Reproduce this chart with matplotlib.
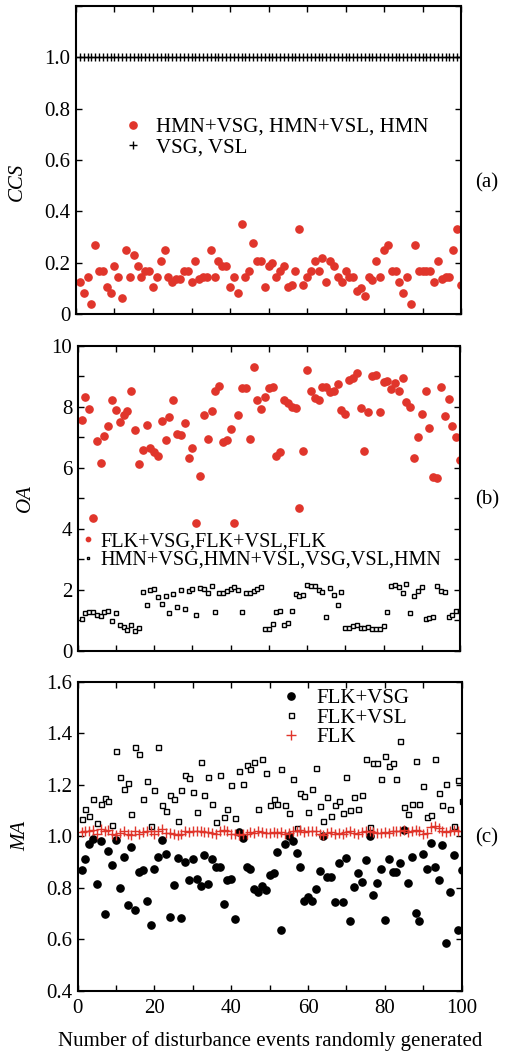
import matplotlib
matplotlib.use("Agg")
import matplotlib.pyplot as plt
import numpy as np
from matplotlib.ticker import MultipleLocator, FuncFormatter

plt.rcParams['font.family'] = ['Liberation Serif', 'DejaVu Serif']
plt.rcParams['mathtext.fontset'] = 'stix'

RED = '#e0352b'

events = list(range(1, 101))

# Panel (a): CCS
ccs_hmn = [0.123, 0.082, 0.144, 0.040, 0.268, 0.166, 0.166, 0.104, 0.082, 0.187,
           0.144, 0.061, 0.250, 0.144, 0.230, 0.187, 0.144, 0.166, 0.166, 0.104,
           0.144, 0.208, 0.250, 0.144, 0.123, 0.136, 0.136, 0.166, 0.166, 0.123,
           0.208, 0.136, 0.144, 0.144, 0.250, 0.144, 0.208, 0.187, 0.187, 0.104,
           0.144, 0.082, 0.351, 0.144, 0.166, 0.278, 0.208, 0.208, 0.104, 0.187,
           0.198, 0.144, 0.166, 0.187, 0.104, 0.112, 0.166, 0.331, 0.112, 0.144,
           0.166, 0.208, 0.166, 0.218, 0.123, 0.208, 0.187, 0.144, 0.123, 0.166,
           0.144, 0.144, 0.091, 0.101, 0.071, 0.144, 0.134, 0.208, 0.144, 0.250,
           0.268, 0.166, 0.166, 0.123, 0.082, 0.144, 0.040, 0.268, 0.166, 0.166,
           0.166, 0.166, 0.123, 0.208, 0.136, 0.144, 0.144, 0.250, 0.331, 0.112]
ccs_vsg = [1.0] * 100

# Panel (b): OA
oa_flk = [7.57, 8.31, 7.93, 4.35, 6.88, 6.15, 7.04, 7.37, 8.22, 7.89,
          7.49, 7.73, 7.86, 8.52, 7.23, 6.14, 6.60, 7.39, 6.64, 6.53,
          6.40, 7.54, 6.92, 7.65, 8.22, 7.11, 7.07, 7.46, 6.33, 6.64,
          4.18, 5.73, 7.72, 6.93, 7.85, 8.52, 8.69, 6.84, 6.92, 7.28,
          4.20, 7.73, 8.60, 8.62, 6.93, 9.31, 8.22, 7.94, 8.31, 8.60,
          8.66, 6.40, 6.52, 8.22, 8.11, 7.98, 7.96, 4.69, 6.56, 9.22,
          8.52, 8.28, 8.22, 8.66, 8.66, 8.49, 8.53, 8.76, 7.90, 7.75,
          8.89, 8.95, 9.09, 7.97, 6.55, 7.84, 9.00, 9.04, 7.82, 8.81,
          8.86, 8.57, 8.78, 8.53, 8.93, 8.17, 7.99, 6.31, 7.00, 7.75,
          8.52, 7.31, 5.71, 5.66, 8.64, 7.70, 8.26, 7.37, 7.02, 6.26]
oa_hmn = [1.06, 1.23, 1.29, 1.29, 1.17, 1.15, 1.27, 1.32, 0.99, 1.26,
          0.85, 0.80, 0.69, 0.85, 0.67, 0.76, 1.93, 1.50, 2.00, 2.03,
          1.76, 1.53, 1.81, 1.23, 1.86, 1.43, 1.99, 1.39, 1.97, 2.04,
          1.17, 2.06, 2.03, 1.90, 2.14, 1.27, 1.89, 1.89, 1.98, 2.03,
          2.09, 2.00, 1.27, 1.89, 1.89, 1.98, 2.02, 2.09, 0.71, 0.71,
          0.87, 1.27, 1.32, 0.86, 0.91, 1.32, 1.86, 1.81, 1.82, 2.17,
          2.13, 2.13, 1.99, 1.94, 1.12, 2.07, 1.82, 1.50, 1.94, 0.76,
          0.76, 0.82, 0.85, 0.74, 0.74, 0.80, 0.72, 0.72, 0.71, 0.82,
          1.27, 2.14, 2.16, 2.11, 1.89, 2.18, 1.23, 1.80, 1.97, 2.11,
          1.04, 1.08, 1.11, 2.12, 1.98, 1.93, 1.12, 1.17, 1.32, 1.32]

# Panel (c): MA
ma_vsg = [0.869, 0.911, 0.969, 0.990, 0.816, 0.981, 0.700, 0.943, 0.890, 0.985,
          0.798, 0.919, 0.732, 0.960, 0.713, 0.860, 0.868, 0.750, 0.655, 0.875,
          0.921, 0.985, 0.931, 0.686, 0.812, 0.915, 0.683, 0.900, 0.829, 0.911,
          0.836, 0.806, 0.929, 0.816, 0.911, 0.882, 0.882, 0.739, 0.829, 0.833,
          0.681, 1.018, 0.995, 0.882, 0.873, 0.794, 0.783, 0.806, 0.792, 0.851,
          0.856, 0.938, 0.638, 0.970, 1.001, 0.983, 0.935, 0.880, 0.750, 0.763,
          0.750, 0.797, 0.867, 1.001, 0.844, 0.844, 0.745, 0.898, 0.745, 0.915,
          0.673, 0.802, 0.856, 0.823, 0.908, 1.001, 0.771, 0.818, 0.873, 0.677,
          0.911, 0.863, 0.863, 0.898, 1.025, 0.818, 0.919, 0.704, 0.673, 0.931,
          0.873, 0.974, 0.882, 0.829, 0.968, 0.585, 0.785, 0.926, 0.638, 0.869]
ma_vsl = [1.066, 1.107, 1.080, 1.146, 1.052, 1.125, 1.147, 1.136, 1.044, 1.332,
          1.229, 1.185, 1.206, 1.087, 1.347, 1.318, 1.144, 1.216, 1.039, 1.178,
          1.347, 1.122, 1.098, 1.162, 1.144, 1.058, 1.178, 1.238, 1.225, 1.172,
          1.094, 1.287, 1.160, 1.231, 1.125, 1.054, 1.238, 1.075, 1.105, 1.199,
          1.070, 1.252, 1.202, 1.277, 1.263, 1.289, 1.107, 1.301, 1.247, 1.122,
          1.144, 1.125, 1.263, 1.122, 1.089, 1.221, 1.031, 1.168, 1.156, 1.093,
          1.185, 1.265, 1.118, 1.058, 1.152, 1.080, 1.123, 1.136, 1.089, 1.231,
          1.101, 1.152, 1.107, 1.160, 1.300, 1.038, 1.283, 1.283, 1.224, 1.310,
          1.273, 1.283, 1.224, 1.370, 1.115, 1.087, 1.127, 1.294, 1.127, 1.195,
          1.074, 1.083, 1.300, 1.168, 1.122, 1.203, 1.105, 1.041, 1.220, 1.136]
ma_flk = [1.016, 1.022, 1.019, 1.025, 1.010, 1.027, 1.019, 1.025, 1.010, 1.005,
          1.013, 1.022, 1.010, 1.005, 1.019, 1.010, 1.016, 1.022, 1.022, 1.010,
          1.019, 1.027, 1.013, 1.013, 1.010, 1.005, 1.010, 1.019, 1.016, 1.022,
          1.019, 1.019, 1.016, 1.016, 1.013, 1.010, 1.019, 1.025, 1.019, 1.010,
          1.010, 1.005, 1.010, 1.010, 1.016, 1.013, 1.019, 1.016, 1.013, 1.013,
          1.016, 1.013, 1.016, 1.010, 1.013, 1.019, 1.022, 1.025, 1.016, 1.019,
          1.022, 1.019, 1.010, 1.005, 1.013, 1.016, 1.010, 1.013, 1.010, 1.016,
          1.019, 1.013, 1.010, 1.016, 1.019, 1.022, 1.016, 1.013, 1.013, 1.016,
          1.013, 1.019, 1.022, 1.019, 1.025, 1.016, 1.022, 1.025, 1.019, 1.008,
          1.013, 1.038, 1.041, 1.031, 1.022, 1.016, 1.019, 1.025, 1.019, 1.022]

W, H = 506, 1054
fig = plt.figure(figsize=(W / 100, H / 100), dpi=100)

def px_axes(left, top, right, bottom):
    return fig.add_axes([left / W, 1 - bottom / H, (right - left) / W, (bottom - top) / H])

FS = 15

def style(ax):
    for s in ax.spines.values():
        s.set_linewidth(1.5)
    ax.tick_params(direction='in', which='both', top=True, right=True,
                   length=4.5, width=1.0, labelsize=FS)
    ax.tick_params(axis='y', pad=4)
    ax.tick_params(axis='x', pad=6)
    ax.set_xlim(0, 100)
    ax.xaxis.set_major_locator(MultipleLocator(20))
    ax.xaxis.set_minor_locator(MultipleLocator(10))
    ax.tick_params(which='minor', length=4.5, width=1.0)

# (a)
ax1 = px_axes(76, 6, 461, 314)
style(ax1)
ax1.plot(events, ccs_hmn, 'o', color=RED, ms=5.2, mec=RED, lw=0,
         label='HMN+VSG, HMN+VSL, HMN')
ax1.plot(events, ccs_vsg, '+', color='black', ms=5.5, mew=1.0, lw=0,
         label='VSG, VSL')
ax1.set_ylim(0, 1.2)
ax1.yaxis.set_major_locator(MultipleLocator(0.2))
ax1.yaxis.set_major_formatter(FuncFormatter(lambda v, p: '0' if abs(v) < 1e-9 else ('' if v > 1.1 else f'{v:.1f}')))
ax1.set_xticklabels([])
ax1.set_ylabel('CCS', fontsize=FS, style='italic')
ax1.yaxis.set_label_coords(-0.127, 0.428)
ax1.legend(loc='center left', bbox_to_anchor=(0.12, 0.573), frameon=False,
           fontsize=FS, handlelength=1.0, handletextpad=0.6, borderpad=0,
           labelspacing=0.05, borderaxespad=0)
ax1.text(487 / W, 1 - 183 / H, '(a)', transform=fig.transFigure,
         fontsize=FS, ha='center', va='center')

# (b)
ax2 = px_axes(77.7, 345.7, 460, 651)
style(ax2)
ax2.plot(events, oa_flk, 'o', color=RED, ms=5.2, mec=RED, lw=0,
         label='FLK+VSG,FLK+VSL,FLK')
ax2.plot(events, oa_hmn, 's', color='black', mfc='white', ms=3.4, mew=1.0, lw=0,
         label='HMN+VSG,HMN+VSL,VSG,VSL,HMN')
ax2.set_ylim(0, 10)
ax2.yaxis.set_major_locator(MultipleLocator(1))
ax2.yaxis.set_major_formatter(FuncFormatter(lambda v, p: f'{int(round(v))}' if int(round(v)) % 2 == 0 else ''))
ax2.set_xticklabels([])
ax2.set_ylabel('OA', fontsize=FS, style='italic')
ax2.yaxis.set_label_coords(-0.112, 0.5)
ax2.legend(loc='center left', bbox_to_anchor=(0.012, 0.3275), frameon=False,
           fontsize=14.6, handlelength=0.6, handletextpad=0.3, borderpad=0,
           labelspacing=-0.02, borderaxespad=0, markerscale=0.6)
ax2.text(487 / W, 1 - 500 / H, '(b)', transform=fig.transFigure,
         fontsize=FS, ha='center', va='center')

# (c)
ax3 = px_axes(77.7, 681.7, 461.7, 991)
style(ax3)
ax3.plot(events, ma_vsg, 'o', color='black', ms=5.2, lw=0, label='FLK+VSG')
ax3.plot(events, ma_vsl, 's', color='black', mfc='white', ms=3.6, mew=1.0, lw=0,
         label='FLK+VSL')
ax3.plot(events, ma_flk, '+', color=RED, ms=6.5, mew=1.0, lw=0, label='FLK')
ax3.set_ylim(0.4, 1.6)
ax3.yaxis.set_major_locator(MultipleLocator(0.2))
ax3.yaxis.set_major_formatter(FuncFormatter(lambda v, p: f'{v:.1f}'))
ax3.set_ylabel('MA', fontsize=FS, style='italic')
ax3.yaxis.set_label_coords(-0.124, 0.5)
ax3.set_xlabel('Number of disturbance events randomly generated', fontsize=FS, labelpad=9)
ax3.legend(loc='center left', bbox_to_anchor=(0.528, 0.883), frameon=False,
           fontsize=FS, handlelength=1.0, handletextpad=0.72, borderpad=0,
           labelspacing=0.0, borderaxespad=0)
ax3.text(487 / W, 1 - 838 / H, '(c)', transform=fig.transFigure,
         fontsize=FS, ha='center', va='center')

fig.savefig('out.png', dpi=100)
